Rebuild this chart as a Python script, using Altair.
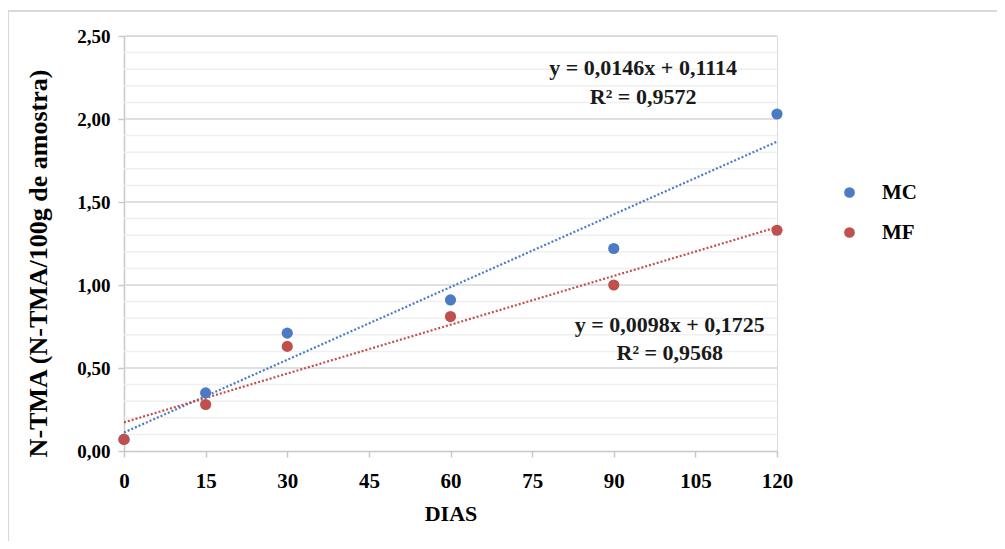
import altair as alt
import pandas as pd

# ---- data ----
dias = [0, 15, 30, 60, 90, 120]
mc_vals = [0.07, 0.35, 0.71, 0.91, 1.22, 2.03]
mf_vals = [0.07, 0.28, 0.63, 0.81, 1.00, 1.33]
series = ["MC", "MF"]
colors = ["#4a7bc4", "#c0504d"]
slopes = [0.0146, 0.0098]
intercepts = [0.1114, 0.1725]
trend_x = [0, 120]
eq_lines = ["y = 0,0146x + 0,1114", "R² = 0,9572", "y = 0,0098x + 0,1725", "R² = 0,9568"]
eq_x = [95.4, 95.4, 100.3, 100.3]
eq_y = [2.31, 2.135, 0.76, 0.59]
x_ticks = [0, 15, 30, 45, 60, 75, 90, 105, 120]
y_major = [0.0, 0.5, 1.0, 1.5, 2.0, 2.5]
y_minor = [0.1, 0.2, 0.3, 0.4, 0.6, 0.7, 0.8, 0.9,
           1.1, 1.2, 1.3, 1.4, 1.6, 1.7, 1.8, 1.9,
           2.1, 2.2, 2.3, 2.4]

FONT = "Liberation Serif"

pts = pd.DataFrame({
    "dias": dias * 2,
    "valor": mc_vals + mf_vals,
    "serie": ["MC"] * len(dias) + ["MF"] * len(dias),
})

trend_rows = []
for s, m, b in zip(series, slopes, intercepts):
    for xv in trend_x:
        trend_rows.append({"dias": xv, "valor": m * xv + b, "serie": s})
trend = pd.DataFrame(trend_rows)

eqs = pd.DataFrame({"dias": eq_x, "valor": eq_y, "txt": eq_lines})

x_scale = alt.Scale(domain=[0, 120], nice=False, zero=False)
y_scale = alt.Scale(domain=[0, 2.5], nice=False)
color_scale = alt.Scale(domain=series, range=colors)

x_enc = alt.X("dias:Q", scale=x_scale, axis=alt.Axis(
    values=x_ticks, title="DIAS", grid=False, labelFont=FONT, labelFontSize=21,
    labelFontWeight="bold", labelColor="#000", titleFont=FONT, titleFontSize=22,
    titleFontWeight="bold", titleColor="#000", domainColor="#c8c8c8", domainWidth=1.5,
    tickColor="#c8c8c8", tickSize=6, tickWidth=1.5, labelPadding=13, titlePadding=12,
    labelOverlap=False, labelFlush=False))

y_enc = alt.Y("valor:Q", scale=y_scale, axis=alt.Axis(
    values=y_major, title="N-TMA (N-TMA/100g de amostra)",
    labelExpr="replace(format(datum.value, '.2f'), '.', ',')",
    grid=False, labelOverlap=False,
    tickColor="#c8c8c8", tickSize=6, tickWidth=1.5,
    labelFont=FONT, labelFontSize=19, labelFontWeight="bold", labelColor="#000",
    titleFont=FONT, titleFontSize=26, titleFontWeight="bold", titleColor="#000",
    titleAngle=270, titleX=-86, titleY=227, titleAlign="center", titleBaseline="middle",
    domainColor="#c8c8c8", domainWidth=1.5, labelPadding=8))

border = alt.Chart(pd.DataFrame({"k": [0]})).mark_rect(
    fill=None, stroke="#d9d9d9", strokeWidth=2, clip=False
).encode(x=alt.value(-116), x2=alt.value(900), y=alt.value(-25), y2=alt.value(540))

minor_grid = alt.Chart(pd.DataFrame({"v": y_minor})).mark_rule(
    color="#efefef", strokeWidth=1.5).encode(
    y=alt.Y("v:Q", scale=y_scale), x=alt.value(0), x2=alt.value(653))

major_grid = alt.Chart(pd.DataFrame({"v": y_major[1:]})).mark_rule(
    color="#d6d6d6", strokeWidth=1.5).encode(
    y=alt.Y("v:Q", scale=y_scale), x=alt.value(0), x2=alt.value(653))

trend_layer = alt.Chart(trend).mark_line(strokeDash=[2, 2], strokeWidth=2.2).encode(
    x=x_enc, y=y_enc,
    color=alt.Color("serie:N", scale=color_scale, legend=None),
    detail="serie:N")

pts_layer = alt.Chart(pts).mark_circle(size=125, opacity=1).encode(
    x="dias:Q", y="valor:Q",
    color=alt.Color("serie:N", scale=color_scale, legend=alt.Legend(
        title=None, orient="none", legendX=715, legendY=146,
        labelFont=FONT, labelFontSize=21, labelFontWeight="bold", labelColor="#000",
        symbolType="circle", symbolSize=115, symbolStrokeWidth=0, rowPadding=18,
        labelOffset=22)),
    order=alt.Order("serie:N"))

text_layer = alt.Chart(eqs).mark_text(
    font=FONT, fontSize=22, fontWeight="bold", color="#1a1a1a", align="center",
    baseline="middle").encode(x="dias:Q", y="valor:Q", text="txt:N")

chart = alt.layer(border, minor_grid, major_grid, trend_layer, pts_layer, text_layer).resolve_scale(
    color="independent"
).properties(
    width=653, height=415,
    autosize=alt.AutoSizeParams(type="none"),
    padding={"left": 116, "top": 28, "right": 220, "bottom": 90},
).configure_view(stroke=None).configure(background="white")

chart.save("out.html", embed_options={"renderer": "svg", "actions": False})
